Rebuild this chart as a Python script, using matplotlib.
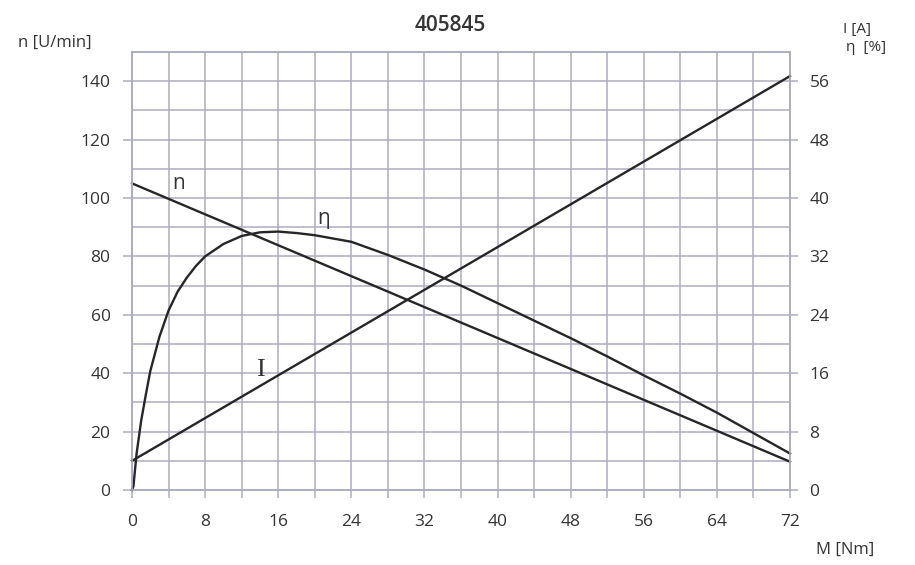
import matplotlib
matplotlib.use("Agg")
import matplotlib.pyplot as plt
from matplotlib.ticker import MultipleLocator

# torque axis values [Nm]
torque_n = [0, 72]
speed = [105, 9.7]  # n [U/min]

torque_i = [0, 72]
current = [4.0, 56.7]  # I [A]

torque_eta = [0, 0.15, 0.5, 1, 1.5, 2, 3, 4, 5, 6, 7, 8, 10, 12, 14, 16, 18, 20,
              24, 28, 32, 36, 40, 44, 48, 52, 56, 60, 64, 68, 72]
efficiency = [0, 0.5, 5.0, 9.5, 13.0, 16.3, 21.0, 24.6, 27.2, 29.1, 30.7, 32.0,
              33.7, 34.8, 35.3, 35.4, 35.2, 34.9, 34.0, 32.2, 30.2, 28.0, 25.6,
              23.2, 20.8, 18.3, 15.7, 13.2, 10.6, 7.8, 5.0]  # eta [%]

x_ticks = [0, 8, 16, 24, 32, 40, 48, 56, 64, 72]
left_ticks = [0, 20, 40, 60, 80, 100, 120, 140]
right_ticks = [0, 8, 16, 24, 32, 40, 48, 56]

grid_col = "#acacc2"
line_col = "#262626"
text_col = "#333333"
plt.rcParams["font.family"] = ["Open Sans", "DejaVu Sans"]

fig = plt.figure(figsize=(9.15, 5.65), dpi=100)
ax = fig.add_axes([0.1443, 0.1327, 0.7191, 0.7753])
ax2 = ax.twinx()

ax.set_xlim(0, 72)
ax.set_ylim(0, 150)
ax2.set_ylim(0, 60)

ax.set_xticks(x_ticks)
ax.xaxis.set_minor_locator(MultipleLocator(4))
ax.set_yticks(left_ticks)
ax.yaxis.set_minor_locator(MultipleLocator(10))
ax2.set_yticks(right_ticks)

ax.grid(True, which="both", color=grid_col, lw=1.1)
ax.tick_params(axis="x", which="both", length=5.5, width=1.1, color=grid_col,
               labelsize=12.5, labelcolor=text_col, pad=12)
ax.tick_params(axis="y", which="major", length=6.5, width=1.1, color=grid_col,
               labelsize=12.5, labelcolor=text_col, pad=9)
ax.tick_params(axis="y", which="minor", length=0)
ax2.tick_params(axis="y", length=6, width=1.1, color=grid_col,
                labelsize=12.5, labelcolor=text_col, pad=8)
for a in (ax, ax2):
    for sp in a.spines.values():
        sp.set_color(grid_col)
        sp.set_linewidth(1.1)

ax.plot(torque_n, speed, color=line_col, lw=1.7, clip_on=False)
ax2.plot(torque_i, current, color=line_col, lw=1.7, clip_on=False)
ax2.plot(torque_eta, efficiency, color=line_col, lw=1.7, clip_on=False)

ax.text(4.4, 103, "n", fontsize=15, color=text_col)
ax.text(20.3, 91, "η", fontsize=15, color=text_col)
ax.text(13.6, 39, "I", fontsize=19, color=text_col, family="Liberation Serif")

fig.text(0.492, 0.955, "405845", fontsize=15, fontweight="semibold",
         color=text_col, ha="center", va="center")
fig.text(0.020, 0.925, "n [U/min]", fontsize=12, color=text_col, va="center")
fig.text(0.921, 0.947, "I [A]", fontsize=11, color=text_col, va="center")
fig.text(0.925, 0.916, "η  [%]", fontsize=11, color=text_col, va="center")
fig.text(0.892, 0.027, "M [Nm]", fontsize=12, color=text_col, va="center")

fig.savefig("out.png", dpi=100)
